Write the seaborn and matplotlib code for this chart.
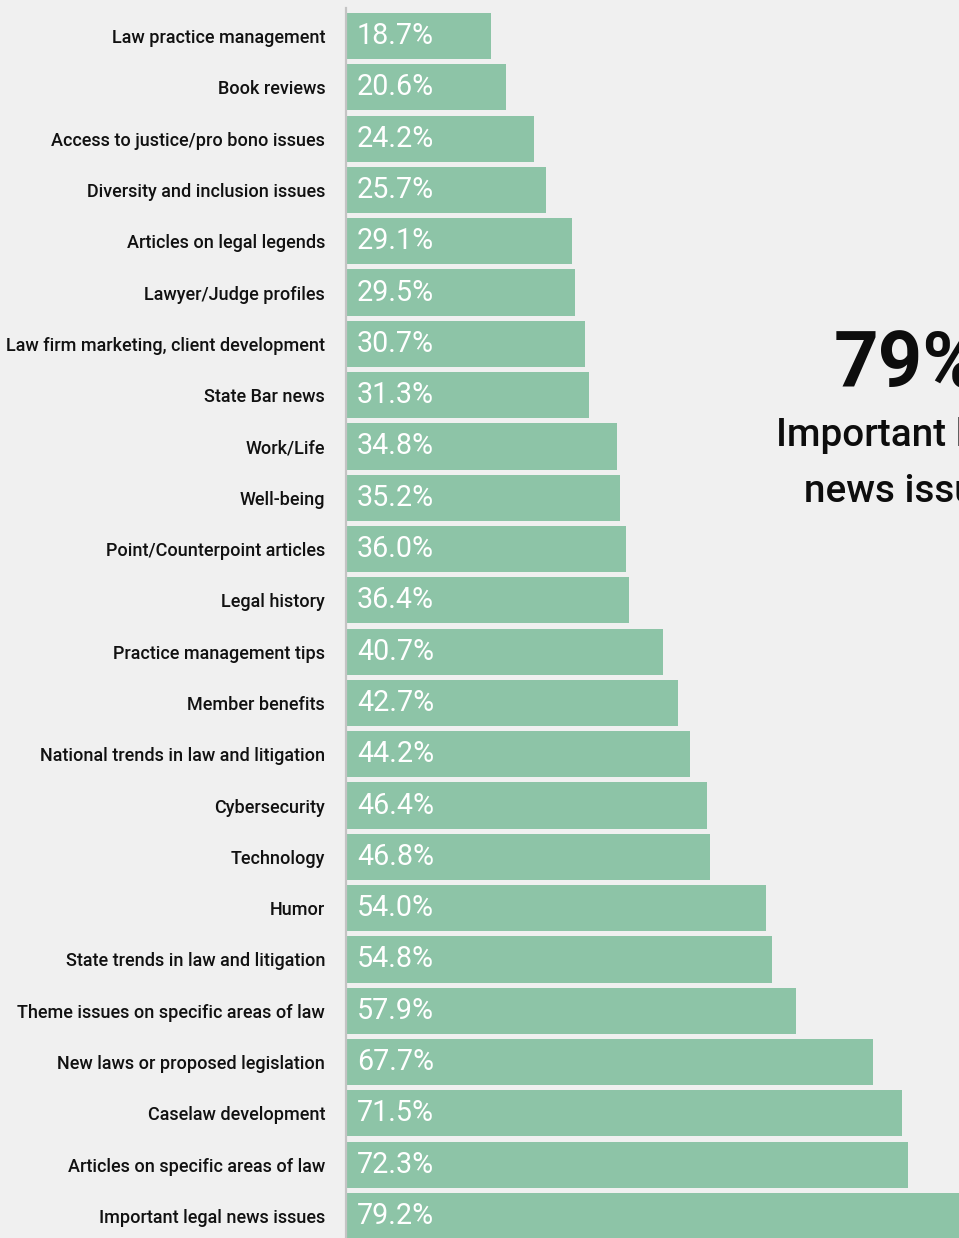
import matplotlib
matplotlib.use("Agg")
import matplotlib.pyplot as plt
import seaborn as sns
import pandas as pd

topics = [
    "Law practice management",
    "Book reviews",
    "Access to justice/pro bono issues",
    "Diversity and inclusion issues",
    "Articles on legal legends",
    "Lawyer/Judge profiles",
    "Law firm marketing, client development",
    "State Bar news",
    "Work/Life",
    "Well-being",
    "Point/Counterpoint articles",
    "Legal history",
    "Practice management tips",
    "Member benefits",
    "National trends in law and litigation",
    "Cybersecurity",
    "Technology",
    "Humor",
    "State trends in law and litigation",
    "Theme issues on specific areas of law",
    "New laws or proposed legislation",
    "Caselaw development",
    "Articles on specific areas of law",
    "Important legal news issues",
]
shares = [18.7, 20.6, 24.2, 25.7, 29.1, 29.5, 30.7, 31.3, 34.8, 35.2, 36.0, 36.4,
          40.7, 42.7, 44.2, 46.4, 46.8, 54.0, 54.8, 57.9, 67.7, 71.5, 72.3, 79.2]

headline_value = "79%"
headline_label = ["Important legal", "news issues"]

BG = "#f0f0f0"
BAR = "#8dc4a7"

sns.set_theme(style="white")
plt.rcParams["font.family"] = ["Roboto", "DejaVu Sans"]

df = pd.DataFrame({"topic": topics, "share": shares})

W, H = 959, 1238
fig = plt.figure(figsize=(W / 100, H / 100), dpi=100, facecolor=BG)
ax = fig.add_axes([346 / W, 0.0, 1 - 346 / W, (1238 - 8) / H])
ax.set_facecolor(BG)

sns.barplot(data=df, x="share", y="topic", orient="h", color=BAR,
            width=0.9, saturation=1, linewidth=0, ax=ax)
ax.set_xlim(0, 78.8)
ax.set_ylim(23.43, -0.546)

for s in ["top", "right", "bottom"]:
    ax.spines[s].set_visible(False)
ax.spines["left"].set_color("#c4c4c4")
ax.spines["left"].set_linewidth(1.6)
ax.set_xticks([])
ax.set_xlabel("")
ax.set_ylabel("")
ax.tick_params(axis="y", length=0, pad=15)
for lab in ax.get_yticklabels():
    lab.set_fontsize(13.0)
    lab.set_fontweight("medium")
    lab.set_color("#111111")
    lab.set_verticalalignment("center_baseline")

for i, v in enumerate(shares):
    ax.text(1.4, i, f"{v:.1f}%", color="white", fontsize=20.6,
            va="center", ha="left")

# headline callout on the right
fig.text(907 / W, 1 - 366 / H, headline_value, fontsize=56, fontweight="bold",
         color="#0d0d0d", ha="center", va="center")
fig.text(908 / W, 1 - 436 / H, headline_label[0], fontsize=27.8,
         fontweight="medium", color="#0d0d0d", ha="center", va="center")
fig.text(910 / W, 1 - 492 / H, headline_label[1], fontsize=27.8,
         fontweight="medium", color="#0d0d0d", ha="center", va="center")

fig.savefig("out.png", dpi=100, facecolor=BG)
